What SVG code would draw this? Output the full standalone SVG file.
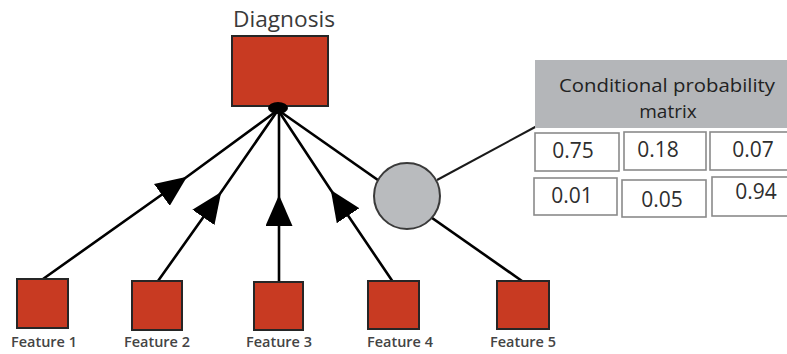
<svg xmlns="http://www.w3.org/2000/svg" width="787" height="354" viewBox="0 0 787 354">
  <style>
    .box { fill: #c83a22; stroke: #262626; stroke-width: 2; }
    .edge { fill: none; stroke: #000; stroke-width: 2.6; }
    .lbl { font-family: "Open Sans", "Noto Sans", sans-serif; fill: #3a3a3a; text-anchor: middle; }
    .feat { font-weight: 600; fill: #444; }
    .cell { fill: #fff; stroke: #8a8a8a; stroke-width: 1.6; }
    .num { font-family: "Open Sans", "Noto Sans", sans-serif; font-size: 21px; fill: #2e2e2e; text-anchor: middle; }
  </style>
  <defs>
    <marker id="tri" markerUnits="userSpaceOnUse" viewBox="0 0 31 27" markerWidth="31" markerHeight="27" refX="31" refY="13.5" orient="auto">
      <path d="M0,0 L31,13.5 L0,27 Z" fill="#000"/>
    </marker>
  </defs>
  <rect width="787" height="354" fill="#fff"/>

  <g id="connectors">
    <path class="edge" d="M43,279 L187,176.7 L278,110" marker-mid="url(#tri)"/>
    <path class="edge" d="M158,281 L221.2,192 L278,110" marker-mid="url(#tri)"/>
    <path class="edge" d="M279,282 L279,195 L279,110" marker-mid="url(#tri)"/>
    <path class="edge" d="M393,282 L330.8,190 L278,110" marker-mid="url(#tri)"/>
    <path class="edge" d="M278,110 L522,281"/>
    <path fill="none" stroke="#1a1a1a" stroke-width="2" d="M437,180 L537,126"/>
  </g>

  <g id="diagnosis">
    <rect class="box" x="232" y="36" width="96" height="70"/>
    <ellipse cx="278" cy="108" rx="10" ry="6" fill="#000"/>
    <text class="lbl" x="284" y="27" font-size="21" textLength="102" lengthAdjust="spacingAndGlyphs">Diagnosis</text>
  </g>

  <g id="cpm-node">
    <circle cx="407" cy="196" r="33" fill="#b9bbbe" stroke="#3a3a3a" stroke-width="2"/>
  </g>

  <g id="feature1">
    <rect class="box" x="17" y="279" width="51" height="49"/>
    <text class="lbl feat" x="44" y="347" font-size="15" textLength="66" lengthAdjust="spacingAndGlyphs">Feature 1</text>
  </g>
  <g id="feature2">
    <rect class="box" x="132" y="281" width="50" height="49"/>
    <text class="lbl feat" x="157" y="347" font-size="15" textLength="66" lengthAdjust="spacingAndGlyphs">Feature 2</text>
  </g>
  <g id="feature3">
    <rect class="box" x="254" y="282" width="49" height="48"/>
    <text class="lbl feat" x="279" y="347" font-size="15" textLength="66" lengthAdjust="spacingAndGlyphs">Feature 3</text>
  </g>
  <g id="feature4">
    <rect class="box" x="368" y="281" width="51" height="48"/>
    <text class="lbl feat" x="400" y="347" font-size="15" textLength="66" lengthAdjust="spacingAndGlyphs">Feature 4</text>
  </g>
  <g id="feature5">
    <rect class="box" x="497" y="281" width="52" height="48"/>
    <text class="lbl feat" x="523" y="347" font-size="15" textLength="66" lengthAdjust="spacingAndGlyphs">Feature 5</text>
  </g>

  <g id="matrix">
    <rect x="535" y="60" width="252" height="68" fill="#b4b6b9"/>
    <text class="lbl" x="667" y="92" font-size="19" style="fill:#222" textLength="216" lengthAdjust="spacingAndGlyphs">Conditional probability</text>
    <text class="lbl" x="668" y="118" font-size="19" style="fill:#222">matrix</text>

    <rect class="cell" x="535" y="133" width="84" height="38"/>
    <rect class="cell" x="624" y="132" width="82" height="38"/>
    <rect class="cell" x="710" y="132" width="80" height="38"/>
    <rect class="cell" x="534" y="178" width="83" height="37"/>
    <rect class="cell" x="622" y="180" width="84" height="37"/>
    <rect class="cell" x="712" y="177" width="78" height="39"/>

    <text class="num" x="573" y="158">0.75</text>
    <text class="num" x="658" y="157">0.18</text>
    <text class="num" x="753" y="157">0.07</text>
    <text class="num" x="572" y="203">0.01</text>
    <text class="num" x="662" y="207">0.05</text>
    <text class="num" x="756" y="199">0.94</text>
  </g>
</svg>
